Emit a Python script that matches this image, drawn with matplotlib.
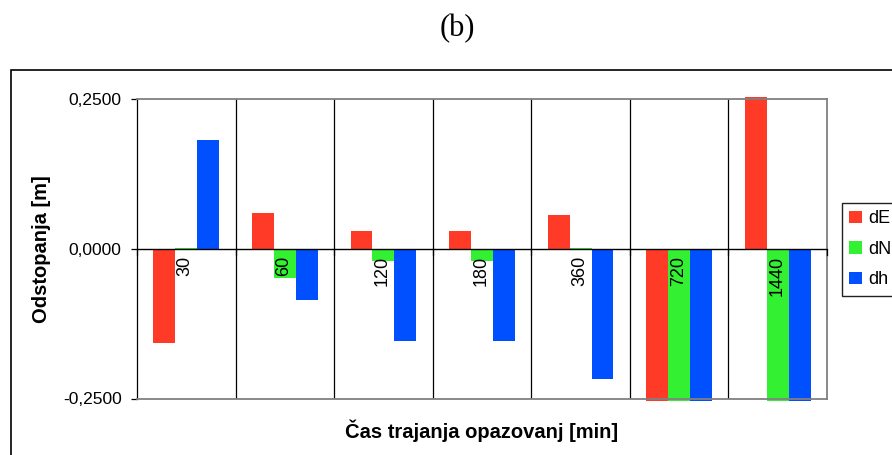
import matplotlib
matplotlib.use("Agg")
import matplotlib.pyplot as plt
import numpy as np
from matplotlib.patches import Rectangle, Patch

# ---- data ----
categories = ["30", "60", "120", "180", "360", "720", "1440"]
dE = [-0.157, 0.059, 0.029, 0.029, 0.057, -0.255, 0.254]
dN = [0.002, -0.048, -0.020, -0.020, 0.002, -0.255, -0.255]
dh = [0.182, -0.086, -0.154, -0.154, -0.218, -0.255, -0.255]
series_names = ["dE", "dN", "dh"]
yticks = [-0.25, 0.0, 0.25]
ytick_labels = ["-0,2500", "0,0000", "0,2500"]

colors = ["#FF3A26", "#33F033", "#0050FF"]

W, H = 892, 455
fig = plt.figure(figsize=(W / 100, H / 100), dpi=100)
fig.patch.set_facecolor("white")

ax = fig.add_axes([137 / W, 1 - 398.5 / H, (827 - 137) / W, (398.5 - 99) / H])

n = len(categories)
x = np.arange(n)
bw = 1 / 4.5
for k, (vals, c, name) in enumerate(zip([dE, dN, dh], colors, series_names)):
    ax.bar(x + (k - 1) * bw, vals, width=bw, color=c, edgecolor="none",
           label=name, clip_on=False, zorder=2)

ax.set_xlim(-0.5, n - 0.5)
ax.set_ylim(-0.25, 0.25)

# category separators
for b in np.arange(0.5, n - 0.5, 1):
    ax.axvline(b, color="black", lw=0.9, zorder=1)
# zero line
ax.axhline(0, color="black", lw=1.0, zorder=3)
# small ticks under zero line at boundaries
for b in np.arange(-0.5, n + 0.5, 1):
    ax.plot([b, b], [0, -0.01], color="black", lw=0.9, clip_on=False, zorder=3)

# category labels rotated below the zero line
for xi, lab in zip(x, categories):
    ax.text(xi - 0.01, -0.0125, lab, rotation=90, ha="center", va="top",
            fontsize=13, family="Liberation Sans", zorder=4)

ax.set_xticks([])
ax.set_yticks(yticks)
ax.set_yticklabels(ytick_labels, fontsize=12.5, family="Liberation Sans")
ax.tick_params(axis="y", direction="out", length=4, width=0.9, pad=7, colors="black")

for s in ["top", "right", "bottom"]:
    ax.spines[s].set_color("#808080")
    ax.spines[s].set_linewidth(1.3)
ax.spines["left"].set_color("black")
ax.spines["left"].set_linewidth(0.9)

# axis labels
fig.text(42 / W, 1 - 249 / H, "Odstopanja [m]", rotation=90, ha="center", va="center",
         fontsize=14.5, fontweight="bold", family="Liberation Sans")
fig.text(482 / W, 1 - 431 / H, "Čas trajanja opazovanj [min]", ha="center", va="center",
         fontsize=14.5, fontweight="bold", family="Liberation Sans")

# title
fig.text(457 / W, 1 - 29 / H, "(b)", ha="center", va="center", fontsize=22,
         family="Liberation Serif")

# outer border
fig.patches.append(Rectangle((11 / W, -0.1), 1.2, 1 - 70 / H + 0.1, transform=fig.transFigure,
                             fill=False, edgecolor="black", lw=1.2, zorder=0))

# legend
handles = [Patch(facecolor=c, edgecolor="none") for c in colors]
leg = fig.legend(handles, series_names, loc="upper left",
                 bbox_to_anchor=(842 / W, 1 - 203 / H), bbox_transform=fig.transFigure,
                 borderaxespad=0, frameon=True, fancybox=False, framealpha=1,
                 prop={"family": "Liberation Sans", "size": 13},
                 handlelength=0.68, handleheight=0.68, handletextpad=0.4,
                 labelspacing=0.75, borderpad=0.4)
leg.get_frame().set_edgecolor("#222222")
leg.get_frame().set_linewidth(1.0)

fig.savefig("out.png", dpi=100)
